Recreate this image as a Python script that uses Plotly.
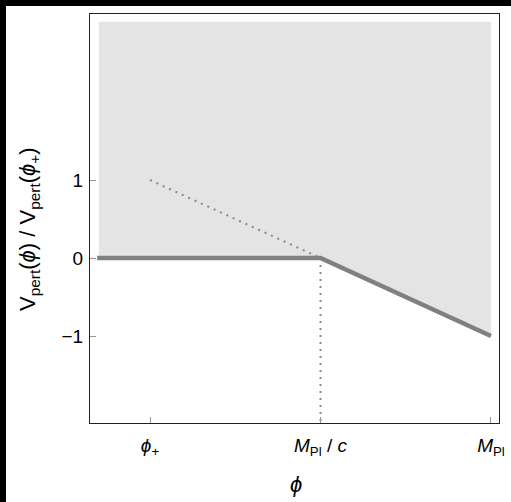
import plotly.graph_objects as go

# Field positions on the phi axis (in units where phi_+ = 1)
phi_ticks = [1.0, 2.0, 3.0]
phi_tick_labels = ["<i>ϕ</i><sub>+</sub>", "<i>M</i><sub>Pl</sub> / <i>c</i>", "<i>M</i><sub>Pl</sub>"]
v_ticks = [-1, 0, 1]
v_tick_labels = ["−1", "0", "1"]

# Perturbation potential V_pert(phi)/V_pert(phi_+): flat, then linear drop
pot_phi = [0.69, 2.0, 3.0]
pot_v = [0.0, 0.0, -1.0]

# Naive linear continuation from phi_+ to M_Pl/c
cont_phi = [1.0, 2.0]
cont_v = [1.0, 0.0]

# Vertical marker at M_Pl/c
mark_phi = [2.0, 2.0]
mark_v = [0.0, -2.2]

# Allowed (shaded) region above the potential
shade_phi = [0.70, 3.0, 3.0, 2.0, 0.70]
shade_v = [3.03, 3.03, -1.0, 0.0, 0.0]

x_range = [0.648, 3.047]
y_range = [-2.115, 3.128]

W, H = 511, 502
L, R, T, B = 90, 12, 14, 79
pw, ph = W - L - R, H - T - B

fig = go.Figure()
fig.add_trace(go.Scatter(x=shade_phi, y=shade_v, fill="toself", mode="none",
                         fillcolor="#e4e4e4", hoverinfo="skip"))
fig.add_trace(go.Scatter(x=cont_phi, y=cont_v, mode="lines",
                         line=dict(color="#888888", width=2, dash="2px,5px")))
fig.add_trace(go.Scatter(x=mark_phi, y=mark_v, mode="lines",
                         line=dict(color="#888888", width=2, dash="2px,5px")))
fig.add_trace(go.Scatter(x=pot_phi, y=pot_v, mode="lines",
                         line=dict(color="#808080", width=4.5)))

family = "Liberation Sans, Arial, sans-serif"
tick_font = dict(family=family, size=19, color="black")

fig.update_layout(
    width=W, height=H,
    margin=dict(l=L, r=R, t=T, b=B),
    paper_bgcolor="white", plot_bgcolor="white",
    showlegend=False,
    font=tick_font,
    xaxis=dict(range=x_range, tickvals=phi_ticks, ticktext=phi_tick_labels,
               showgrid=False, zeroline=False, showline=True, mirror=True,
               linecolor="#222222", linewidth=1, ticks="inside", ticklen=6,
               tickcolor="#999999", tickfont=tick_font, ticklabelstandoff=5,
               automargin=False),
    yaxis=dict(range=y_range, tickvals=v_ticks, ticktext=v_tick_labels,
               showgrid=False, zeroline=False, showline=True, mirror=True,
               linecolor="#222222", linewidth=1, ticks="inside", ticklen=6,
               tickcolor="#999999", tickfont=tick_font, ticklabelstandoff=2,
               automargin=False),
)

# Axis titles
fig.add_annotation(text="<i>ϕ</i>", xref="paper", yref="paper",
                   x=(296 - L) / pw, y=-(485 - T - ph) / ph, showarrow=False,
                   font=dict(family=family, size=22, color="black"),
                   xanchor="center", yanchor="middle")
fig.add_annotation(text="V<sub>pert</sub>(<i>ϕ</i>) / V<sub>pert</sub>(<i>ϕ</i><sub>+</sub>)",
                   xref="paper", yref="paper", x=(29 - L) / pw, y=1 - (229 - T) / ph,
                   textangle=-90, showarrow=False,
                   font=dict(family=family, size=22, color="black"),
                   xanchor="center", yanchor="middle")

# Dark strips along the top and left edges of the page
fig.add_shape(type="rect", xref="paper", yref="paper", layer="above",
              x0=-L / pw, x1=(W - L) / pw, y0=1 + (T - 6) / ph, y1=1 + T / ph,
              fillcolor="black", line=dict(width=0))
fig.add_shape(type="rect", xref="paper", yref="paper", layer="above",
              x0=-L / pw, x1=(6 - L) / pw, y0=-B / ph, y1=1 + T / ph,
              fillcolor="black", line=dict(width=0))

fig.write_html("out.html")
